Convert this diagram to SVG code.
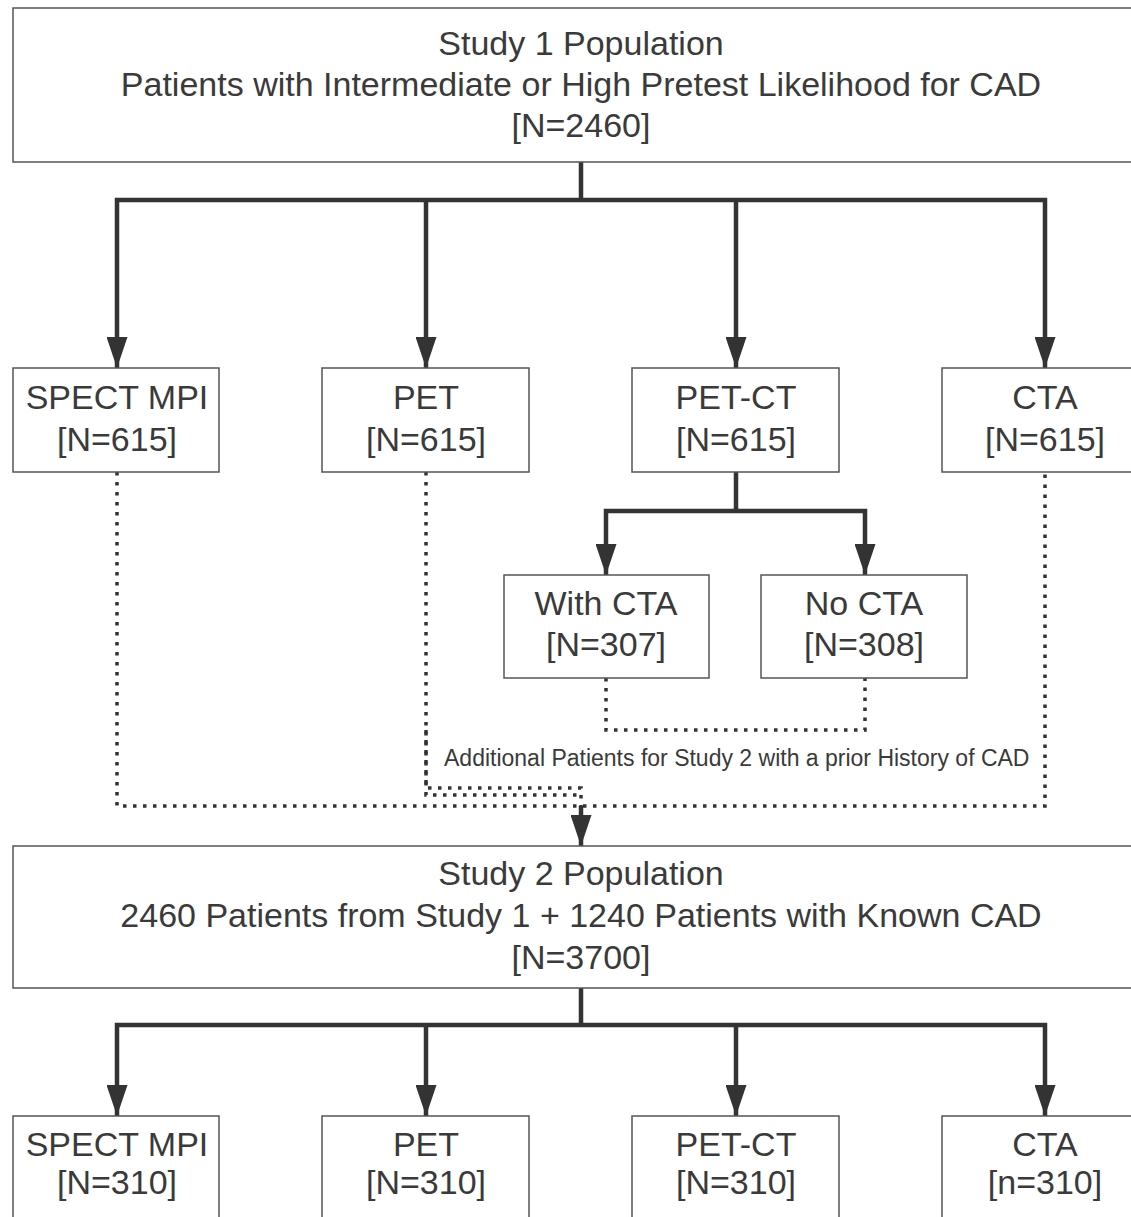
<svg xmlns="http://www.w3.org/2000/svg" width="1131" height="1217" viewBox="0 0 1131 1217">
<defs>
<style>
.box{fill:#fff;stroke:#555;stroke-width:1.5}
.t{font-family:"Liberation Sans",Arial,sans-serif;font-size:34px;fill:#3a3a3a;text-anchor:middle}
.lbl{font-family:"Liberation Sans",Arial,sans-serif;font-size:23px;fill:#3a3a3a}
.solid{fill:none;stroke:#333;stroke-width:4.5;stroke-linejoin:miter}
.dot{fill:none;stroke:#333;stroke-width:3.5;stroke-dasharray:3.5 6.5}
</style>
<marker id="arr" viewBox="0 0 31 21" refX="31" refY="10.5" markerWidth="31" markerHeight="21" markerUnits="userSpaceOnUse" orient="auto-start-reverse">
<path d="M0,0 L31,10.5 L0,21 Z" fill="#333"/>
</marker>
</defs>
<rect width="1131" height="1217" fill="#fff"/>
<g id="connectors">
<path class="solid" d="M581,162 V200"/>
<path class="solid" d="M117,368 V200 H1045 V368" marker-start="url(#arr)" marker-end="url(#arr)"/>
<path class="solid" d="M426,200 V368" marker-end="url(#arr)"/>
<path class="solid" d="M736,200 V368" marker-end="url(#arr)"/>
<path class="solid" d="M736,472 V511"/>
<path class="solid" d="M606,575 V511 H865 V575" marker-start="url(#arr)" marker-end="url(#arr)"/>
<path class="dot" d="M117,472 V806 H1045 V472"/>
<path class="dot" d="M426,472 V795 H581"/>
<path class="dot" d="M606,678 V730 H865 V678"/>
<path class="dot" d="M426,730 V788 H581 V806"/>
<path class="solid" d="M581,806 V846" marker-end="url(#arr)"/>
<path class="solid" d="M581,988 V1025"/>
<path class="solid" d="M117,1116 V1025 H1045 V1116" marker-start="url(#arr)" marker-end="url(#arr)"/>
<path class="solid" d="M426,1025 V1116" marker-end="url(#arr)"/>
<path class="solid" d="M736,1025 V1116" marker-end="url(#arr)"/>
<text class="lbl" x="444" y="766">Additional Patients for Study 2 with a prior History of CAD</text>
</g>
<g id="study1">
<rect class="box" x="13" y="8" width="1140" height="154"/>
<text class="t" x="581" y="55">Study 1 Population</text>
<text class="t" x="581" y="96">Patients with Intermediate or High Pretest Likelihood for CAD</text>
<text class="t" x="581" y="137">[N=2460]</text>
</g>
<g id="spect1">
<rect class="box" x="13" y="368" width="206" height="104"/>
<text class="t" x="117" y="409">SPECT MPI</text>
<text class="t" x="117" y="451">[N=615]</text>
</g>
<g id="pet1">
<rect class="box" x="322" y="368" width="207" height="104"/>
<text class="t" x="426" y="409">PET</text>
<text class="t" x="426" y="451">[N=615]</text>
</g>
<g id="petct1">
<rect class="box" x="632" y="368" width="207" height="104"/>
<text class="t" x="736" y="409">PET-CT</text>
<text class="t" x="736" y="451">[N=615]</text>
</g>
<g id="cta1">
<rect class="box" x="942" y="368" width="207" height="104"/>
<text class="t" x="1045" y="409">CTA</text>
<text class="t" x="1045" y="451">[N=615]</text>
</g>
<g id="withcta">
<rect class="box" x="504" y="575" width="205" height="103"/>
<text class="t" x="606" y="615">With CTA</text>
<text class="t" x="606" y="656">[N=307]</text>
</g>
<g id="nocta">
<rect class="box" x="761" y="575" width="206" height="103"/>
<text class="t" x="864" y="615">No CTA</text>
<text class="t" x="864" y="656">[N=308]</text>
</g>
<g id="study2">
<rect class="box" x="13" y="846" width="1140" height="142"/>
<text class="t" x="581" y="885">Study 2 Population</text>
<text class="t" x="581" y="927">2460 Patients from Study 1 + 1240 Patients with Known CAD</text>
<text class="t" x="581" y="969">[N=3700]</text>
</g>
<g id="spect2">
<rect class="box" x="13" y="1116" width="206" height="120"/>
<text class="t" x="117" y="1156">SPECT MPI</text>
<text class="t" x="117" y="1194">[N=310]</text>
</g>
<g id="pet2">
<rect class="box" x="322" y="1116" width="207" height="120"/>
<text class="t" x="426" y="1156">PET</text>
<text class="t" x="426" y="1194">[N=310]</text>
</g>
<g id="petct2">
<rect class="box" x="632" y="1116" width="207" height="120"/>
<text class="t" x="736" y="1156">PET-CT</text>
<text class="t" x="736" y="1194">[N=310]</text>
</g>
<g id="cta2">
<rect class="box" x="942" y="1116" width="207" height="120"/>
<text class="t" x="1045" y="1156">CTA</text>
<text class="t" x="1045" y="1194">[n=310]</text>
</g>
</svg>
